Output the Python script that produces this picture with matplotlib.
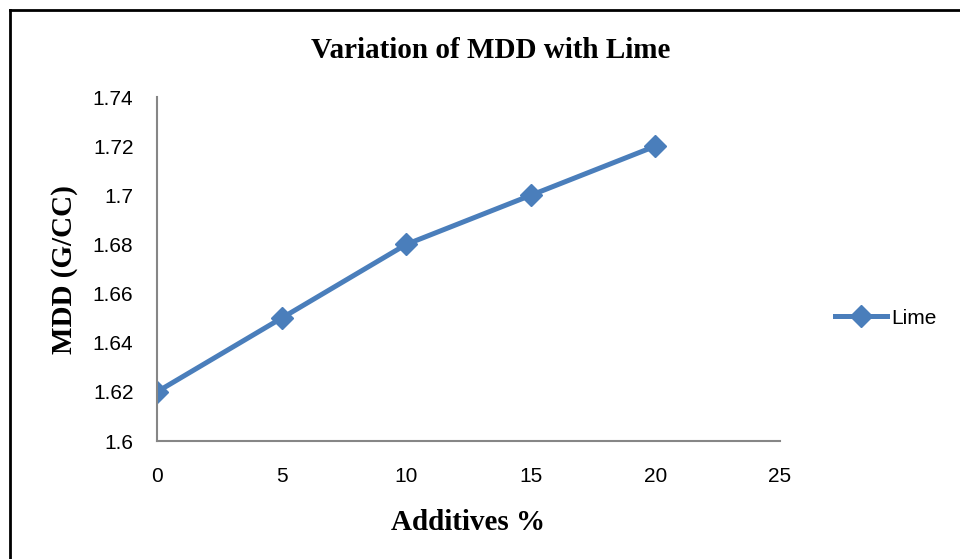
import matplotlib.pyplot as plt
from matplotlib.lines import Line2D

additives = [0, 5, 10, 15, 20]
mdd_lime = [1.62, 1.65, 1.68, 1.70, 1.72]
x_ticks = [0, 5, 10, 15, 20, 25]
y_ticks = [1.6, 1.62, 1.64, 1.66, 1.68, 1.7, 1.72, 1.74]
y_tick_labels = ['1.6', '1.62', '1.64', '1.66', '1.68', '1.7', '1.72', '1.74']

blue = '#4a7ebb'
serif = 'Liberation Serif'
sans = 'Liberation Sans'

fig = plt.figure(figsize=(9.6, 5.59), dpi=100)
ax = fig.add_axes([157 / 960, 1 - 441 / 559, (780 - 157) / 960, (441 - 97) / 559])

ax.plot(additives, mdd_lime, color=blue, linewidth=3.6, marker='D',
        markersize=11, markerfacecolor=blue, markeredgecolor=blue, label='Lime')

ax.set_xlim(0, 25)
ax.set_ylim(1.6, 1.74)
ax.set_xticks(x_ticks)
ax.set_yticks(y_ticks)
ax.set_yticklabels(y_tick_labels)
ax.tick_params(length=0, labelsize=15)
ax.tick_params(axis='y', pad=17)
ax.tick_params(axis='x', pad=19)
for lab in ax.get_xticklabels() + ax.get_yticklabels():
    lab.set_fontfamily(sans)

for s in ['top', 'right']:
    ax.spines[s].set_visible(False)
for s in ['left', 'bottom']:
    ax.spines[s].set_color('#868686')
    ax.spines[s].set_linewidth(1.5)

fig.text(491 / 960, 1 - 50 / 559, 'Variation of MDD with Lime', ha='center', va='center',
         fontsize=21, fontweight='bold', family=serif)
fig.text(468 / 960, 1 - 522 / 559, 'Additives %', ha='center', va='center',
         fontsize=21, fontweight='bold', family=serif)
fig.text(64 / 960, 1 - 270 / 559, 'MDD (G/CC)', ha='center', va='center', rotation=90,
         fontsize=21, fontweight='bold', family=serif)

leg = ax.legend(loc='center left', bbox_to_anchor=(816 / 960, 1 - 318 / 559),
                bbox_transform=fig.transFigure, frameon=False, handlelength=2.5,
                handletextpad=0.2, prop={'family': sans, 'size': 15})

# chart border
fig.add_artist(Line2D([10 / 960, 10 / 960], [0, 1 - 10 / 559], color='black', linewidth=2,
                      transform=fig.transFigure))
fig.add_artist(Line2D([10 / 960, 1], [1 - 10 / 559, 1 - 10 / 559], color='black', linewidth=2,
                      transform=fig.transFigure))

fig.savefig('out.png', dpi=100)
